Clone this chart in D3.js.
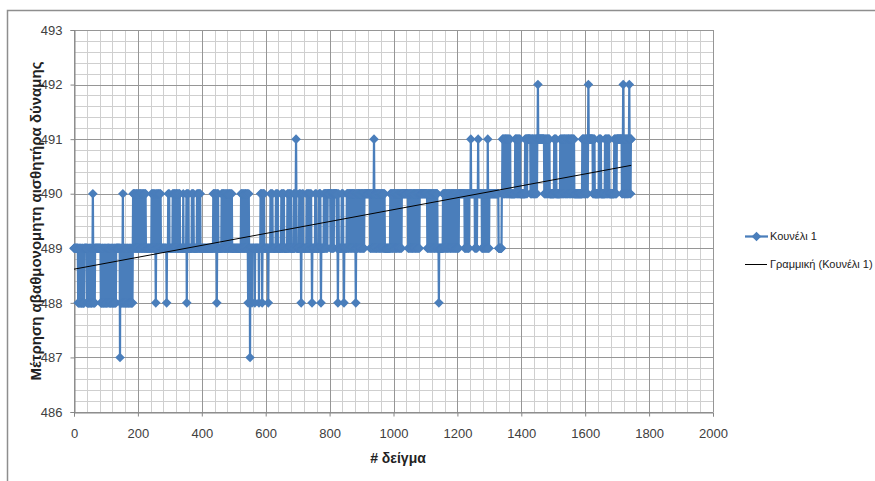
<!DOCTYPE html>
<html>
<head>
<meta charset="utf-8">
<script src="https://cdnjs.cloudflare.com/ajax/libs/d3/7.8.5/d3.min.js"></script>
<style>
  body { margin: 0; background: #fff; }
  svg { display: block; font-family: "Liberation Sans Narrow", "Liberation Sans", Arial, sans-serif; }
</style>
</head>
<body>
<div id="chart"></div>
<script>
// sensor readings, one digit per sample (value = baseValue + digit)
var baseValue = 486;

var samplesA =
  "3333333333 3332323232 3232232322 2323333333 3232322323 " +
  "2323223234 3232323333 3333333333 3333232232 3223232323 " +
  "2232323332 3232232323 2322323232 3233333333 3333132323 " +
  "2234232323 2322323232 3223232323 2232343434";

var samplesB1 =
  "3433434334 3343343434 3343433434 3343433333 3333333333 " +
  "3334334343 3433432343 3433434334 3433333333 3333333333 " +
  "2333343343 3333333334 3433434334 3434334334 3433333333 " +
  "3343333333 3342343343 3333333334 3433433333 3333343343 " +
  "4334343333 3333333333 3333333333 3333333333 3333334343 " +
  "4334343234 3433333333 3343343434 3343343343 4334334343 " +
  "3433433333 3333333333 3333333333 3334343343 4334334343 " +
  "3434323433 3133333233 3333332333 3333333332 3333434342 " +
  "3434343333 3333333323 3333343343 3433333333 3343343343 " +
  "3333333334 3343343433 3333333343 3433434334 3333333343 " +
  "3434454333 3333343343 3233433433 3333333343 3433434334 " +
  "3343323333 3333343343";

var samplesB2 =
  "3333333434 3432333333 3343434434 3443444444 4443434434 " +
  "3443444444 4443432343 3333333343 4343323333 3333434434 " +
  "3443443434 4344344343 4323443434 4434434344 3443443434 " +
  "4444444444 4444444343 4434434345 4343443434 4344343443 " +
  "4344344343 4343333333 3333333333 4343443434 4344343443 " +
  "4344344343 4434434444 4444444444 4444443434 4344343443 " +
  "4344344343 4434434434 4344444444 4444444444 4444443434 " +
  "4344343443 4344344343 4434434433 3323333333 3333343434 " +
  "4344343443 4344344343 4434434434 4344343443 4344344444 " +
  "4444444444 4443434434 4344343444 4454444444 4444434434 " +
  "4344454444 4444444343 4434434434 4344354343 4444444444 " +
  "4444444444 4444444443 3333333334";

var samplesC =
  "4545454545 4554545454 5454454444 4444444444 4545545454 " +
  "5454545444 4444444444 4454545545 5555555554 5454554545 " +
  "4545454554 5565555555 5555555555 5545454545 4545545454 " +
  "4444444444 4445454545 4444444444 4454545454 5454554545 " +
  "4545454554 5454545545 4545454444 4444444444 4444444444 " +
  "4545545454 5454554545 6555555555 5555454545 4444444444 " +
  "4445454545 4444444444 4454545454 5454554444 4444444444 " +
  "4545454545 5555555555 5555545456 5454545454 5454554565 " +
  "45455";

var xTicks = [0, 200, 400, 600, 800, 1000, 1200, 1400, 1600, 1800, 2000];
var yTicks = [486, 487, 488, 489, 490, 491, 492, 493];

var seriesName = "Κουνέλι 1";
var trendName = "Γραμμική (Κουνέλι 1)";
var xTitle = "# δείγμα";
var yTitle = "Μέτρηση αβαθμονομητη αισθητήρα δύναμης";

var W = 875, H = 481;
var plot = {left: 74, right: 713, top: 30, bottom: 412};
var blue = "#4a7ebb";

var data = (samplesA + samplesB1 + samplesB2 + samplesC)
  .replace(/\s+/g, "").split("")
  .map(function(c, i) { return {x: i, y: baseValue + (+c)}; });

var x = d3.scaleLinear().domain([0, 2000]).range([plot.left, plot.right]);
var y = d3.scaleLinear().domain([486, 493]).range([plot.bottom, plot.top]);

var svg = d3.select("#chart").append("svg")
    .attr("width", W)
    .attr("height", H);

// chart border (runs off the right and bottom edge)
svg.append("rect")
  .attr("x", 7.5).attr("y", 10.5)
  .attr("width", W).attr("height", H)
  .attr("fill", "#fff")
  .attr("stroke", "#8e8e8e")
  .attr("stroke-width", 1.5);

// gridlines: minor every 40 / 0.2, major on the ticks
var xMinor = d3.range(0, 2001, 40);
var yMinor = d3.range(0, 36).map(function(i) { return 486 + i * 0.2; });

var grid = svg.append("g").attr("class", "grid");
grid.selectAll("line.xminor").data(xMinor).enter().append("line")
  .attr("class", "xminor")
  .attr("x1", function(d) { return Math.round(x(d)) + 0.5; })
  .attr("x2", function(d) { return Math.round(x(d)) + 0.5; })
  .attr("y1", plot.top).attr("y2", plot.bottom)
  .attr("stroke", "#cfcfcf");
grid.selectAll("line.yminor").data(yMinor).enter().append("line")
  .attr("class", "yminor")
  .attr("x1", plot.left).attr("x2", plot.right)
  .attr("y1", function(d) { return Math.round(y(d)) + 0.5; })
  .attr("y2", function(d) { return Math.round(y(d)) + 0.5; })
  .attr("stroke", "#cfcfcf");
grid.selectAll("line.xmajor").data(xTicks).enter().append("line")
  .attr("class", "xmajor")
  .attr("x1", function(d) { return Math.round(x(d)) + 0.5; })
  .attr("x2", function(d) { return Math.round(x(d)) + 0.5; })
  .attr("y1", plot.top).attr("y2", plot.bottom)
  .attr("stroke", "#969696");
grid.selectAll("line.ymajor").data(yTicks).enter().append("line")
  .attr("class", "ymajor")
  .attr("x1", plot.left).attr("x2", plot.right)
  .attr("y1", function(d) { return Math.round(y(d)) + 0.5; })
  .attr("y2", function(d) { return Math.round(y(d)) + 0.5; })
  .attr("stroke", "#969696");

// axes
var xAxis = svg.append("g")
  .attr("transform", "translate(0," + (Math.round(plot.bottom) + 0.5) + ")")
  .call(d3.axisBottom(x).tickValues(xTicks).tickFormat(d3.format("d"))
    .tickSize(4).tickPadding(12));
var yAxis = svg.append("g")
  .attr("transform", "translate(" + (plot.left + 0.5) + ",0)")
  .call(d3.axisLeft(y).tickValues(yTicks).tickFormat(d3.format("d"))
    .tickSize(4).tickPadding(8));

[xAxis, yAxis].forEach(function(a) {
  a.select(".domain").attr("stroke", "#868686");
  a.selectAll(".tick line").attr("stroke", "#868686");
  a.selectAll(".tick text")
    .attr("fill", "#404040")
    .style("font-size", "13px")
    .style("font-family", "inherit");
});

// series
var line = d3.line()
  .x(function(d) { return x(d.x); })
  .y(function(d) { return y(d.y); });

svg.append("path")
  .datum(data)
  .attr("fill", "none")
  .attr("stroke", blue)
  .attr("stroke-width", 2.25)
  .attr("stroke-linejoin", "round")
  .attr("d", line);

var diamond = d3.symbol().type(d3.symbolSquare).size(46);

svg.append("g").selectAll("path")
  .data(data)
  .enter().append("path")
  .attr("d", diamond)
  .attr("fill", blue)
  .attr("transform", function(d) {
    return "translate(" + x(d.x) + "," + y(d.y) + ") rotate(45)"; });

// linear trendline
var mx = d3.mean(data, function(d) { return d.x; });
var my = d3.mean(data, function(d) { return d.y; });
var sxy = d3.sum(data, function(d) { return (d.x - mx) * (d.y - my); });
var sxx = d3.sum(data, function(d) { return (d.x - mx) * (d.x - mx); });
var slope = sxy / sxx, icpt = my - slope * mx;
var xEnd = data[data.length - 1].x;
var trend = [{x: 0, y: icpt}, {x: xEnd, y: icpt + slope * xEnd}];

svg.append("path")
  .datum(trend)
  .attr("fill", "none")
  .attr("stroke", "#000")
  .attr("stroke-width", 1)
  .attr("d", line);

// titles
svg.append("text")
  .attr("x", 398).attr("y", 463)
  .attr("text-anchor", "middle")
  .style("font-size", "14px")
  .style("font-weight", "bold")
  .attr("fill", "#222")
  .text(xTitle);

svg.append("text")
  .attr("transform", "translate(41,221) rotate(-90)")
  .attr("text-anchor", "middle")
  .style("font-size", "15px")
  .style("font-weight", "bold")
  .attr("fill", "#222")
  .text(yTitle);

// legend
var legend = svg.append("g").attr("transform", "translate(745,0)");
legend.append("line")
  .attr("x1", 0).attr("x2", 23).attr("y1", 236.5).attr("y2", 236.5)
  .attr("stroke", blue).attr("stroke-width", 2.25);
legend.append("path")
  .attr("d", diamond)
  .attr("fill", blue)
  .attr("transform", "translate(11.5,236.5) rotate(45)");
legend.append("text")
  .attr("x", 25).attr("y", 236.5).attr("dy", "0.35em")
  .style("font-size", "11px")
  .attr("fill", "#222")
  .text(seriesName);
legend.append("line")
  .attr("x1", 0).attr("x2", 22).attr("y1", 264.5).attr("y2", 264.5)
  .attr("stroke", "#000").attr("stroke-width", 1);
legend.append("text")
  .attr("x", 25).attr("y", 264.5).attr("dy", "0.35em")
  .style("font-size", "11px")
  .attr("fill", "#222")
  .text(trendName);
</script>
</body>
</html>
